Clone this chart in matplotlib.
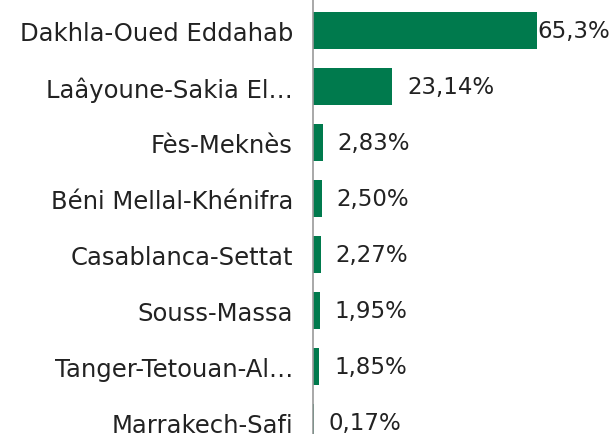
import matplotlib.pyplot as plt

regions = ["Dakhla-Oued Eddahab", "Laâyoune-Sakia El…", "Fès-Meknès",
           "Béni Mellal-Khénifra", "Casablanca-Settat", "Souss-Massa",
           "Tanger-Tetouan-Al…", "Marrakech-Safi"]
values = [65.3, 23.14, 2.83, 2.50, 2.27, 1.95, 1.85, 0.17]
value_labels = ["65,3%", "23,14%", "2,83%", "2,50%", "2,27%", "1,95%", "1,85%", "0,17%"]

plt.rcParams['font.family'] = ['DejaVu Sans']

fig = plt.figure(figsize=(6.13, 4.35), dpi=100)
ax = fig.add_axes([313 / 613, 0, 1 - 313 / 613, 1])

y = list(range(len(values)))
ax.barh(y, values, height=0.66, color='#007A4D')

ax.set_xlim(0, 300 / 3.43)
ax.set_ylim(7.205, -0.5625)

for i, (v, lab) in enumerate(zip(values, value_labels)):
    # the big bar's label sits right against the bar end
    off = 0 if v > 60 else 15
    ax.annotate(lab, (v, i), xytext=(off, 0), textcoords='offset pixels',
                va='center', ha='left', fontsize=16.5, color='#222222')

ax.set_yticks(y)
ax.set_yticklabels(regions, fontsize=17.5, color='#222222')
ax.tick_params(axis='y', length=0, pad=14.4)
ax.set_xticks([])

for s in ['top', 'right', 'bottom']:
    ax.spines[s].set_visible(False)
ax.spines['left'].set_color('#999999')
ax.spines['left'].set_linewidth(1.2)

fig.savefig('out.png', dpi=100)
